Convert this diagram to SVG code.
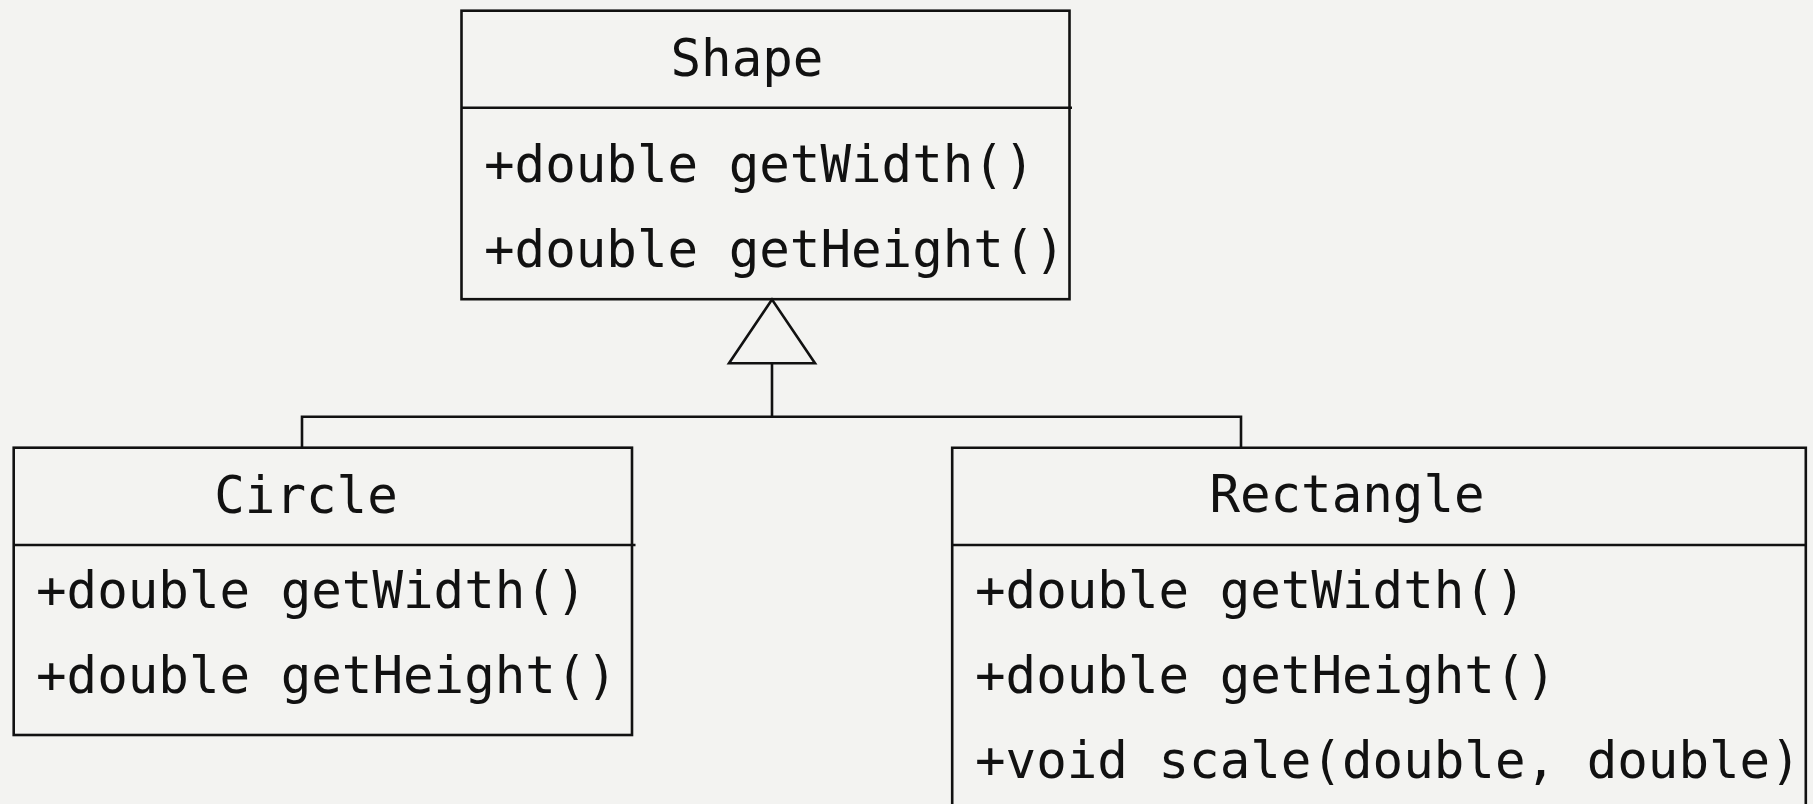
<svg xmlns="http://www.w3.org/2000/svg" width="1813" height="804" viewBox="0 0 1813 804">
<style>
.box{fill:none;stroke:#111;stroke-width:2.6}
.ln{fill:none;stroke:#111;stroke-width:2.6}
text{font-family:"DejaVu Sans Mono","Liberation Mono",monospace;font-size:50.8px;fill:#111}
.t{text-anchor:middle}
</style>
<rect width="1813" height="804" fill="#f3f3f1"/>
<g id="connectors">
<polyline class="ln" points="302,447.7 302,416.7 1241,416.7 1241,447.7"/>
<line class="ln" x1="772" y1="416.7" x2="772" y2="363.3"/>
<polygon class="ln" points="772,299.5 729,363.3 815,363.3"/>
</g>
<g id="shape">
<rect class="box" x="461.5" y="10.7" width="608" height="288.5"/>
<line class="ln" x1="461.5" y1="107.7" x2="1072" y2="107.7"/>
<text class="t" x="747" y="76">Shape</text>
<text x="484" y="181.7">+double getWidth()</text>
<text x="484" y="266.7">+double getHeight()</text>
</g>
<g id="circle">
<rect class="box" x="13.7" y="447.7" width="618.3" height="287.3"/>
<line class="ln" x1="13.7" y1="545" x2="635.5" y2="545"/>
<text class="t" x="306" y="512.7">Circle</text>
<text x="36" y="608">+double getWidth()</text>
<text x="36" y="693">+double getHeight()</text>
</g>
<g id="rectangle">
<polyline class="box" points="952.2,810 952.2,447.7 1805.8,447.7 1805.8,810"/>
<line class="ln" x1="952.2" y1="545" x2="1806" y2="545"/>
<text class="t" x="1347" y="511.7">Rectangle</text>
<text x="975" y="608">+double getWidth()</text>
<text x="975" y="693">+double getHeight()</text>
<text x="975" y="778">+void scale(double, double)</text>
</g>
</svg>
